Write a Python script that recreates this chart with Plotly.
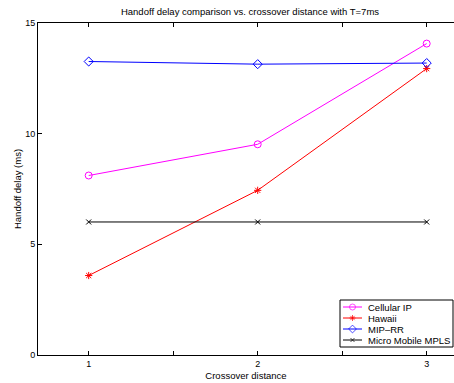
import plotly.graph_objects as go

crossover = [1, 2, 3]
cellular_ip = [8.11, 9.52, 14.07]
hawaii = [3.59, 7.44, 12.94]
mip_rr = [13.26, 13.14, 13.19]
mpls = [6.01, 6.01, 6.01]

x_tickvals = [1, 1.5, 2, 2.5, 3]
x_ticktext = ["1", "", "2", "", "3"]
y_tickvals = [0, 5, 10, 15]

series = [
    ("Cellular IP", cellular_ip, "#ff00ff", "circle-open", 7),
    ("Hawaii", hawaii, "#ff0000", "asterisk-open", 6),
    ("MIP\u2013RR", mip_rr, "#0000ff", "diamond-open", 7),
    ("Micro Mobile MPLS", mpls, "#000000", "x-thin-open", 5),
]

W, H = 454, 383
ML, MR, MT, MB = 38, 0, 23, 28
PW, PH = W - ML - MR, H - MT - MB

fig = go.Figure()
for name, vals, color, sym, sz in series:
    fig.add_trace(go.Scatter(
        x=crossover, y=vals, name=name, mode="lines+markers", showlegend=False,
        line=dict(color=color, width=1),
        marker=dict(symbol=sym, size=sz, color=color, line=dict(color=color, width=1)),
    ))

font = dict(family="Liberation Sans, Arial, Helvetica, sans-serif", size=9, color="black")

# manual legend in pixel-like overlay coordinates (x from plot left, y from plot bottom)
box = dict(x0=340 - ML, x1=453 - ML, y0=H - MB - 347, y1=H - MB - 300)
row_y = [H - MB - cy for cy in (307, 318, 329, 340)]
shapes = [dict(type="rect", xref="x2", yref="y2", x0=box["x0"], x1=box["x1"],
               y0=box["y0"], y1=box["y1"], line=dict(color="black", width=1),
               fillcolor="white", layer="below")]
annotations = []
for (name, vals, color, sym, sz), ry in zip(series, row_y):
    fig.add_trace(go.Scatter(
        x=[343 - ML, 352.5 - ML, 362 - ML], y=[ry, ry, ry], xaxis="x2", yaxis="y2",
        mode="lines+markers", showlegend=False, hoverinfo="skip",
        line=dict(color=color, width=1),
        marker=dict(symbol=sym, size=[0, sz - 1, 0], color=color,
                    line=dict(color=color, width=1)),
    ))
    annotations.append(dict(x=366 - ML, y=ry, xref="x2", yref="y2", text=name,
                            showarrow=False, xanchor="left", yanchor="middle",
                            font=dict(size=9.5)))

fig.update_layout(
    width=W, height=H,
    margin=dict(l=ML, r=MR, t=MT, b=MB, autoexpand=False),
    paper_bgcolor="white", plot_bgcolor="white",
    font=font,
    showlegend=False,
    title=dict(text="Handoff delay comparison vs. crossover distance with T=7ms",
               x=250 / W, xanchor="center", y=1 - 12 / H, yanchor="middle",
               font=dict(size=9.5)),
    shapes=shapes,
    annotations=annotations,
    xaxis=dict(range=[0.7, 0.7 + PW / 169], tickvals=x_tickvals, ticktext=x_ticktext,
               ticks="inside", ticklen=4, tickcolor="black", showline=True,
               linecolor="black", linewidth=1, mirror="ticks", showgrid=False,
               zeroline=False,
               title=dict(text="Crossover distance", standoff=4, font=dict(size=9.5))),
    yaxis=dict(range=[0, 15], tickvals=y_tickvals, ticks="inside", ticklen=4,
               tickcolor="black", showline=True, linecolor="black", linewidth=1,
               mirror=False, showgrid=False, zeroline=False,
               title=dict(text="Handoff delay (ms)", standoff=1, font=dict(size=9.5))),
    xaxis2=dict(range=[0, PW], overlaying="x", anchor="y2", visible=False, fixedrange=True),
    yaxis2=dict(range=[0, PH], overlaying="y", anchor="x2", visible=False, fixedrange=True),
)

fig.write_html("out.html", config={"displayModeBar": False},
               post_script="document.body.style.margin='0';document.body.style.overflow='hidden';")
